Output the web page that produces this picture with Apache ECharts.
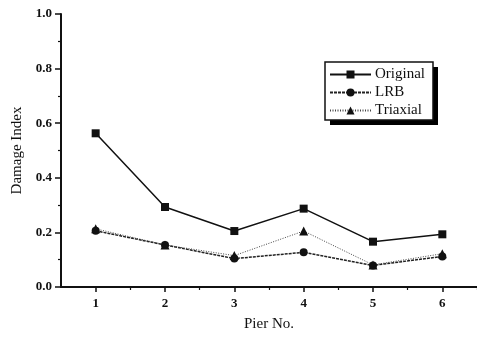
<!DOCTYPE html>
<html><head><meta charset="utf-8">
<script src="https://cdn.jsdelivr.net/npm/echarts@6/dist/echarts.min.js"></script>
<style>html,body{margin:0;padding:0;background:#fff}#c{width:477px;height:337px}</style>
</head><body><div id="c"></div>
<script>
const piers = [1, 2, 3, 4, 5, 6];
const original = [0.563, 0.293, 0.205, 0.287, 0.166, 0.193];
const lrb = [0.206, 0.154, 0.104, 0.127, 0.079, 0.112];
const triaxial = [0.213, 0.154, 0.115, 0.205, 0.081, 0.122];
const yTicks = [0, 0.2, 0.4, 0.6, 0.8, 1.0];

const font = 'Liberation Serif';
const pair = arr => piers.map((p, i) => [p, arr[i]]);
const chart = echarts.init(document.getElementById('c'));
chart.setOption({
  animation: false,
  backgroundColor: '#fff',
  grid: { left: 61, right: 0, top: 14, bottom: 45 },
  graphic: [
    { type: 'rect', z: 1, shape: { x: 330, y: 67, width: 108, height: 58 }, style: { fill: '#000' } },
    { type: 'rect', z: 2, shape: { x: 325, y: 62, width: 108, height: 58 }, style: { fill: '#fff', stroke: '#111', lineWidth: 1.5 } }
  ],
  xAxis: [{
    type: 'value', min: 0.5, max: 6.5,
    name: 'Pier No.', nameLocation: 'middle', nameGap: 30,
    nameTextStyle: { fontFamily: font, fontSize: 15, color: '#111' },
    axisLine: { lineStyle: { color: '#111', width: 2 } },
    axisTick: { customValues: piers, length: 5, lineStyle: { color: '#111', width: 1.5 } },
    axisLabel: { customValues: piers, fontFamily: font, fontSize: 13, fontWeight: 'bold', color: '#111', margin: 10 },
    splitLine: { show: false }
  }, {
    type: 'value', min: 0.5, max: 6.5, position: 'bottom',
    axisLine: { show: false },
    axisTick: { customValues: [1.5, 2.5, 3.5, 4.5, 5.5, 6.5], length: 3, lineStyle: { color: '#111', width: 1.2 } },
    axisLabel: { show: false },
    splitLine: { show: false }
  }],
  yAxis: {
    type: 'value', min: 0, max: 1.0, interval: 0.2,
    name: 'Damage Index', nameLocation: 'middle', nameGap: 35,
    nameTextStyle: { fontFamily: font, fontSize: 15, color: '#111' },
    axisLine: { show: true, lineStyle: { color: '#111', width: 2 } },
    axisTick: { length: 6, lineStyle: { color: '#111', width: 1.5 } },
    minorTick: { show: true, splitNumber: 2, length: 3, lineStyle: { color: '#111', width: 1.2 } },
    axisLabel: { customValues: yTicks, fontFamily: font, fontSize: 13, fontWeight: 'bold', color: '#111', margin: 9,
      formatter: v => v.toFixed(1) },
    splitLine: { show: false }
  },
  legend: {
    orient: 'vertical', left: 329, top: 67, z: 10,
    padding: 0, itemGap: 3, itemWidth: 41, itemHeight: 10,
    textStyle: { fontFamily: font, fontSize: 15, color: '#111', padding: [0, 0, 0, -1] },
    data: ['Original', 'LRB', 'Triaxial']
  },
  series: [{
    name: 'Original', type: 'line', data: pair(original),
    symbol: 'rect', symbolSize: 8,
    lineStyle: { color: '#111', width: 1.5, type: 'solid' },
    itemStyle: { color: '#111' }
  }, {
    name: 'LRB', type: 'line', data: pair(lrb),
    symbol: 'circle', symbolSize: 8,
    lineStyle: { color: '#222', width: 1.5, type: [3, 1] },
    itemStyle: { color: '#111' }
  }, {
    name: 'Triaxial', type: 'line', data: pair(triaxial),
    symbol: 'triangle', symbolSize: 9,
    lineStyle: { color: '#444', width: 1, type: [1, 1.5] },
    itemStyle: { color: '#111' }
  }]
});
</script></body></html>
